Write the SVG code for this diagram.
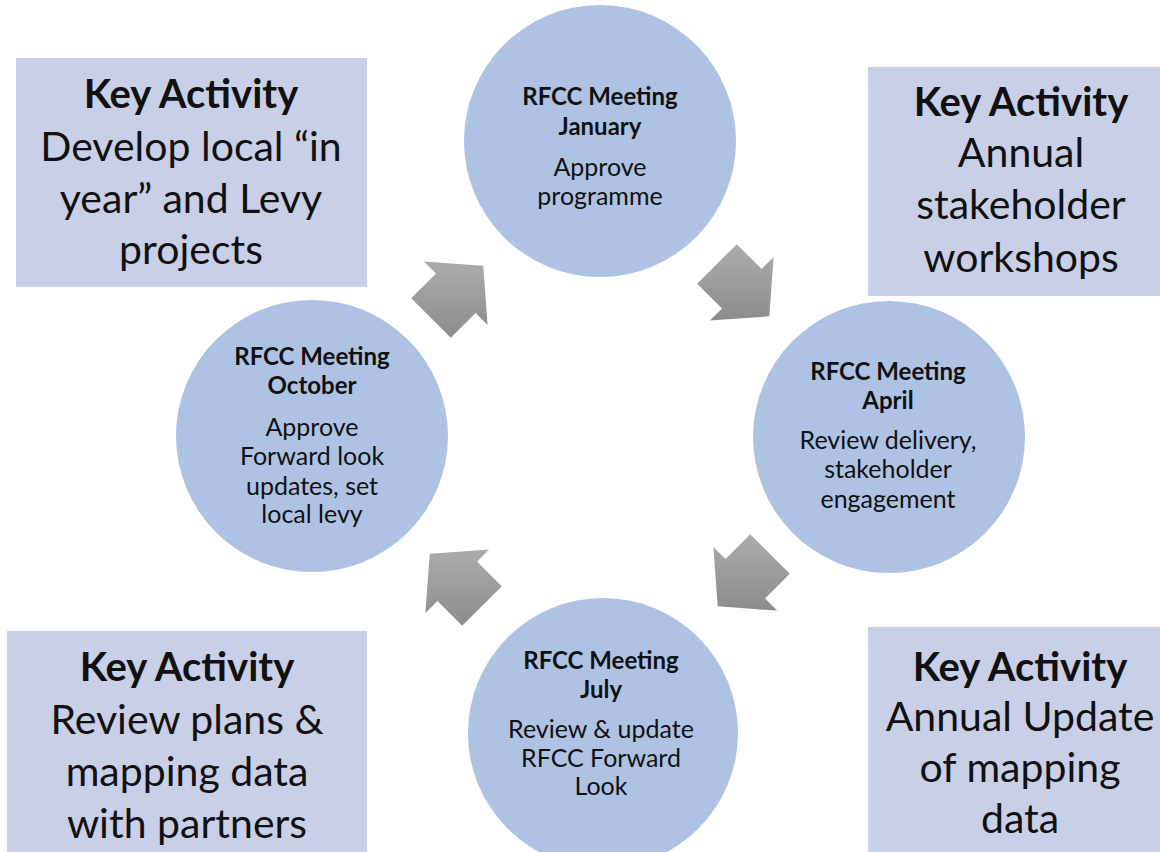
<svg xmlns="http://www.w3.org/2000/svg" width="1160" height="852" viewBox="0 0 1160 852">
  <style>
    .box { fill: #c9cfe7; }
    .meet { fill: #aec2e4; }
    .arrow { fill: url(#arrowGrad); }
    text { font-family: Lato, "Liberation Sans", sans-serif; fill: #111111; text-anchor: middle; }
    .kt { font-size: 41px; }
    .kh { font-size: 40px; font-weight: bold; }
    .mt { font-size: 25px; }
    .mh { font-size: 24px; font-weight: bold; }
  </style>
  <defs>
    <linearGradient id="arrowGrad" x1="0" y1="0" x2="0" y2="1">
      <stop offset="0" stop-color="#acacac"/>
      <stop offset="1" stop-color="#8c8c8c"/>
    </linearGradient>
  </defs>
  <rect width="1160" height="852" fill="#ffffff"/>

  <!-- key activity boxes -->
  <g id="activity-develop">
    <rect class="box" x="16" y="58" width="351" height="229"/>
    <text class="kh" x="191" y="108">Key Activity</text>
    <text class="kt" x="191" y="161">Develop local “in</text>
    <text class="kt" x="191" y="213">year” and Levy</text>
    <text class="kt" x="191" y="264">projects</text>
  </g>
  <g id="activity-workshops">
    <rect class="box" x="868" y="67" width="292" height="229"/>
    <text class="kh" x="1021" y="116">Key Activity</text>
    <text class="kt" x="1021" y="167">Annual</text>
    <text class="kt" x="1021" y="219">stakeholder</text>
    <text class="kt" x="1021" y="272">workshops</text>
  </g>
  <g id="activity-review-plans">
    <rect class="box" x="7" y="631" width="360" height="221"/>
    <text class="kh" x="187" y="681">Key Activity</text>
    <text class="kt" x="187" y="734">Review plans &amp;</text>
    <text class="kt" x="187" y="786">mapping data</text>
    <text class="kt" x="187" y="838">with partners</text>
  </g>
  <g id="activity-mapping-update">
    <rect class="box" x="868" y="627" width="292" height="225"/>
    <text class="kh" x="1020" y="681">Key Activity</text>
    <text class="kt" x="1020" y="731">Annual Update</text>
    <text class="kt" x="1020" y="782">of mapping</text>
    <text class="kt" x="1020" y="833">data</text>
  </g>

  <!-- meeting cycle -->
  <g id="meeting-january">
    <circle class="meet" cx="600" cy="141" r="136"/>
    <text class="mh" x="600" y="105">RFCC Meeting</text>
    <text class="mh" x="600" y="135">January</text>
    <text class="mt" x="600" y="176">Approve</text>
    <text class="mt" x="600" y="205">programme</text>
  </g>
  <g id="meeting-april">
    <circle class="meet" cx="889" cy="437" r="136"/>
    <text class="mh" x="888" y="380">RFCC Meeting</text>
    <text class="mh" x="888" y="409">April</text>
    <text class="mt" x="888" y="449">Review delivery,</text>
    <text class="mt" x="888" y="478">stakeholder</text>
    <text class="mt" x="888" y="508">engagement</text>
  </g>
  <g id="meeting-july">
    <circle class="meet" cx="603" cy="733" r="135"/>
    <text class="mh" x="601" y="669">RFCC Meeting</text>
    <text class="mh" x="601" y="698">July</text>
    <text class="mt" x="601" y="738">Review &amp; update</text>
    <text class="mt" x="601" y="767">RFCC Forward</text>
    <text class="mt" x="601" y="795">Look</text>
  </g>
  <g id="meeting-october">
    <circle class="meet" cx="312" cy="436" r="136"/>
    <text class="mh" x="312" y="365">RFCC Meeting</text>
    <text class="mh" x="312" y="394">October</text>
    <text class="mt" x="312" y="436">Approve</text>
    <text class="mt" x="312" y="465">Forward look</text>
    <text class="mt" x="312" y="495">updates, set</text>
    <text class="mt" x="312" y="523">local levy</text>
  </g>

  <!-- block arrows between meetings -->
  <g id="connectors">
    <polygon class="arrow" points="411.2,298.2 436,273.5 423.9,261.4 483.3,265.7 487.6,325.1 475.6,313.1 450.8,337.8"/>
    <polygon class="arrow" points="736.8,244.2 761.6,269 773.6,256.9 769.3,316.3 709.9,320.6 722,308.6 697.2,283.8"/>
    <polygon class="arrow" points="789.8,573.8 765.1,598.6 777.1,610.6 717.7,606.3 713.4,546.9 725.5,559 750.2,534.2"/>
    <polygon class="arrow" points="462.2,625.8 437.5,601.1 425.4,613.1 429.7,553.7 489.1,549.4 477.1,561.5 501.8,586.2"/>
  </g>
</svg>
